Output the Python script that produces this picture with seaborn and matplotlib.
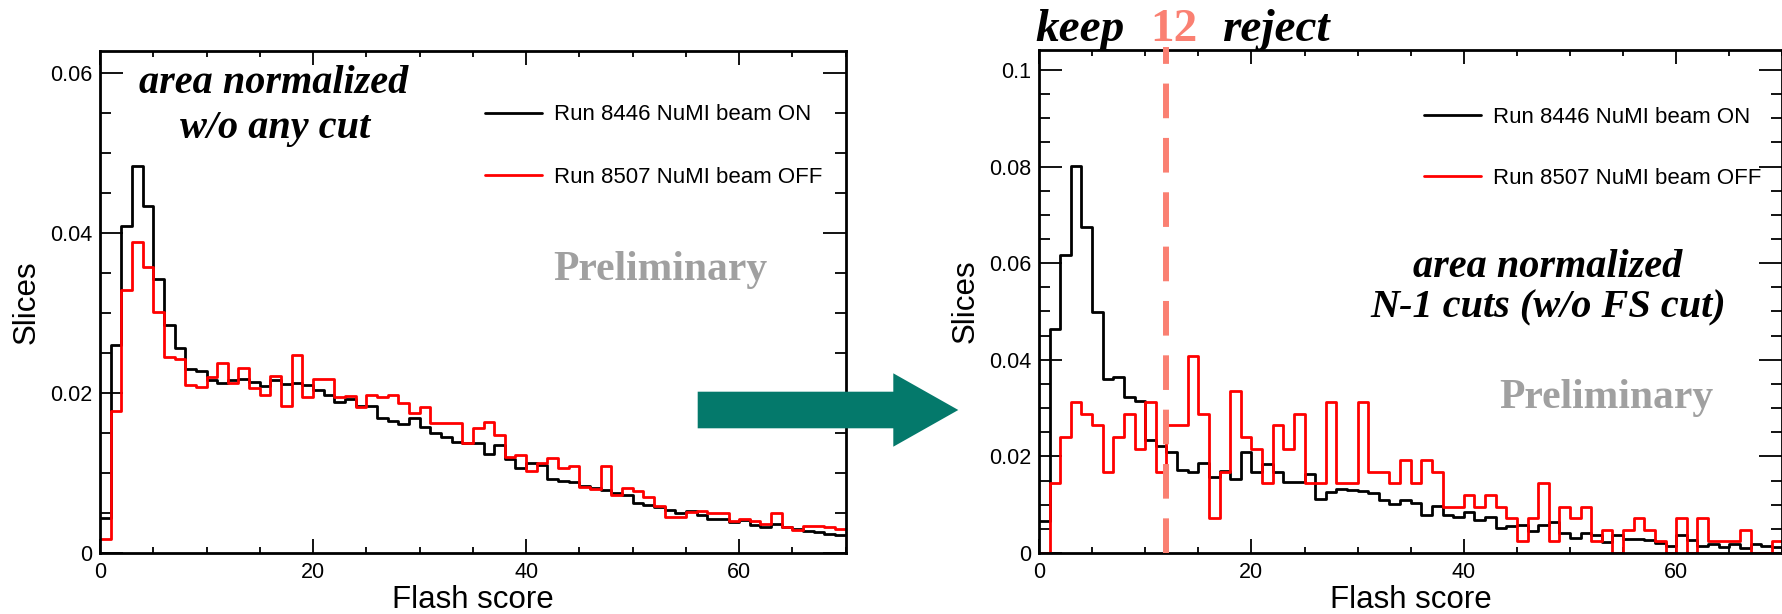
import numpy as np
import pandas as pd
import matplotlib
matplotlib.use("Agg")
import matplotlib.pyplot as plt
import seaborn as sns
from matplotlib.ticker import MultipleLocator, FuncFormatter
from matplotlib.lines import Line2D
from matplotlib.patches import Polygon

# ---------------------------------------------------------------- data
bin_edges = np.arange(0, 71, 1.0)          # Flash score, 70 unit-width bins
bin_centers = 0.5 * (bin_edges[:-1] + bin_edges[1:])

label_on = "Run 8446 NuMI beam ON"
label_off = "Run 8507 NuMI beam OFF"

# area-normalized, no selection
nocut_on = [
    0.0044, 0.0260, 0.0409, 0.0484, 0.0434, 0.0343, 0.0285, 0.0256, 0.0230, 0.0228,
    0.0216, 0.0212, 0.0216, 0.0218, 0.0214, 0.0209, 0.0216, 0.0211, 0.0213, 0.0210,
    0.0204, 0.0197, 0.0189, 0.0193, 0.0184, 0.0184, 0.0169, 0.0165, 0.0161, 0.0169,
    0.0158, 0.0150, 0.0145, 0.0139, 0.0137, 0.0137, 0.0124, 0.0135, 0.0117, 0.0106,
    0.0112, 0.0110, 0.0093, 0.0090, 0.0089, 0.0084, 0.0081, 0.0079, 0.0075, 0.0072,
    0.0062, 0.0060, 0.0057, 0.0054, 0.0050, 0.0052, 0.0048, 0.0043, 0.0042, 0.0039,
    0.0041, 0.0035, 0.0033, 0.0036, 0.0033, 0.0030, 0.0027, 0.0026, 0.0024, 0.0022,
]
nocut_off = [
    0.0018, 0.0177, 0.0329, 0.0389, 0.0357, 0.0301, 0.0245, 0.0242, 0.0210, 0.0208,
    0.0220, 0.0238, 0.0213, 0.0231, 0.0206, 0.0197, 0.0221, 0.0184, 0.0248, 0.0195,
    0.0218, 0.0218, 0.0195, 0.0196, 0.0182, 0.0198, 0.0195, 0.0198, 0.0187, 0.0175,
    0.0182, 0.0163, 0.0163, 0.0163, 0.0138, 0.0156, 0.0164, 0.0147, 0.0120, 0.0122,
    0.0102, 0.0113, 0.0119, 0.0106, 0.0109, 0.0082, 0.0080, 0.0109, 0.0073, 0.0081,
    0.0077, 0.0070, 0.0059, 0.0045, 0.0045, 0.0051, 0.0052, 0.0050, 0.0050, 0.0040,
    0.0043, 0.0040, 0.0036, 0.0050, 0.0032, 0.0029, 0.0034, 0.0034, 0.0032, 0.0030,
]

# area-normalized, all cuts except the flash-score cut
nm1_on = [
    0.0066, 0.0464, 0.0617, 0.0801, 0.0674, 0.0498, 0.0360, 0.0365, 0.0322, 0.0315,
    0.0234, 0.0222, 0.0210, 0.0172, 0.0167, 0.0187, 0.0158, 0.0170, 0.0153, 0.0210,
    0.0167, 0.0184, 0.0167, 0.0146, 0.0146, 0.0164, 0.0112, 0.0127, 0.0132, 0.0130,
    0.0129, 0.0124, 0.0110, 0.0101, 0.0110, 0.0104, 0.0079, 0.0098, 0.0079, 0.0075,
    0.0084, 0.0068, 0.0075, 0.0051, 0.0056, 0.0057, 0.0046, 0.0058, 0.0065, 0.0041,
    0.0032, 0.0041, 0.0037, 0.0023, 0.0037, 0.0030, 0.0028, 0.0026, 0.0020, 0.0014,
    0.0037, 0.0027, 0.0015, 0.0019, 0.0013, 0.0018, 0.0010, 0.0018, 0.0015, 0.0013,
]
nm1_off = [
    0.0000, 0.0144, 0.0240, 0.0312, 0.0288, 0.0264, 0.0168, 0.0240, 0.0288, 0.0216,
    0.0312, 0.0168, 0.0264, 0.0264, 0.0408, 0.0288, 0.0072, 0.0168, 0.0336, 0.0240,
    0.0216, 0.0144, 0.0264, 0.0216, 0.0288, 0.0144, 0.0144, 0.0312, 0.0144, 0.0144,
    0.0312, 0.0168, 0.0168, 0.0144, 0.0192, 0.0144, 0.0192, 0.0168, 0.0096, 0.0096,
    0.0120, 0.0096, 0.0120, 0.0096, 0.0072, 0.0024, 0.0072, 0.0144, 0.0024, 0.0096,
    0.0072, 0.0096, 0.0024, 0.0048, 0.0000, 0.0048, 0.0072, 0.0048, 0.0024, 0.0000,
    0.0072, 0.0000, 0.0072, 0.0024, 0.0024, 0.0024, 0.0048, 0.0000, 0.0000, 0.0024,
]

flash_cut = 12

# ---------------------------------------------------------------- style
sns.set_style("ticks", rc={
    "axes.edgecolor": "black", "text.color": "black", "axes.labelcolor": "black",
    "xtick.color": "black", "ytick.color": "black",
})
plt.rcParams["font.family"] = ["Liberation Sans", "DejaVu Sans"]

W, H = 1782, 614
fig = plt.figure(figsize=(W / 100, H / 100), dpi=100)
fig.patch.set_facecolor("white")


def px_axes(x0, y0, x1, y1):
    """Axes placed by pixel box measured from the top-left corner."""
    return fig.add_axes([x0 / W, 1 - y1 / H, (x1 - x0) / W, (y1 - y0) / H])


def ftext(x, y, s, **kw):
    return fig.text(x / W, 1 - y / H, s, **kw)


def draw_panel(ax, on, off, ymax):
    for vals, col in ((on, "black"), (off, "red")):
        df = pd.DataFrame({"score": bin_centers, "frac": vals})
        sns.histplot(data=df, x="score", weights="frac",
                     binwidth=1.0, binrange=(bin_edges[0], bin_edges[-1]),
                     element="step", fill=False, color=col, linewidth=2.0, ax=ax)
    ax.set_xlim(0, 70)
    ax.set_ylim(0, ymax)
    ax.xaxis.set_major_locator(MultipleLocator(20))
    ax.xaxis.set_minor_locator(MultipleLocator(5))
    ax.yaxis.set_major_locator(MultipleLocator(0.02))
    ax.yaxis.set_minor_locator(MultipleLocator(0.005))
    ax.yaxis.set_major_formatter(FuncFormatter(lambda v, p: f"{v:g}"))
    ax.xaxis.set_major_formatter(FuncFormatter(lambda v, p: f"{v:g}"))
    ax.tick_params(which="both", direction="in", top=True, right=True,
                   width=1.3, labelsize=15.5)
    ax.tick_params(axis="y", which="major", length=16.5, pad=5.5)
    ax.tick_params(axis="y", which="minor", length=8)
    ax.tick_params(axis="x", which="major", length=10, pad=6.5)
    ax.tick_params(axis="x", which="minor", length=4.5)
    for sp in ax.spines.values():
        sp.set_linewidth(2.0)
        sp.set_color("black")
    ax.set_xlabel("Flash score", fontsize=22.5, labelpad=1.5)
    ax.set_ylabel("Slices", fontsize=22.5, labelpad=6)
    ax.set_facecolor("white")


def add_legend(ax, x, y, spacing):
    handles = [Line2D([], [], color="black", lw=2.0), Line2D([], [], color="red", lw=2.0)]
    ax.legend(handles, [label_on, label_off], loc="upper left",
              bbox_to_anchor=(x / W, 1 - y / H), bbox_transform=fig.transFigure,
              frameon=False, fontsize=16, handlelength=2.57, handletextpad=0.54,
              labelspacing=spacing, borderpad=0, borderaxespad=0)


# ---------------------------------------------------------------- left panel
axL = px_axes(100, 50.7, 845.7, 553)
draw_panel(axL, nocut_on, nocut_off, 0.0628)
add_legend(axL, 485, 104.5, 1.87)

serif = ["Liberation Serif", "DejaVu Serif"]
ftext(274, 93, "area normalized", family=serif, weight="bold", style="italic",
      fontsize=29, ha="center", va="baseline")
ftext(275, 138, "w/o any cut", family=serif, weight="bold", style="italic",
      fontsize=29, ha="center", va="baseline")
ftext(660, 280, "Preliminary", family=serif, weight="bold", color="#a0a0a0",
      fontsize=30, ha="center", va="baseline")

# ---------------------------------------------------------------- right panel
axR = px_axes(1039, 50, 1782.4, 553)
draw_panel(axR, nm1_on, nm1_off, 0.10414)
add_legend(axR, 1424, 107, 1.78)

axR.plot([flash_cut, flash_cut], [0, 0.1048], color="#fa8072", lw=4.3,
         dashes=(5.8, 3.3), clip_on=False, zorder=5)

ftext(1548, 277, "area normalized", family=serif, weight="bold", style="italic",
      fontsize=29, ha="center", va="baseline")
ftext(1548, 317, "N-1 cuts (w/o FS cut)", family=serif, weight="bold", style="italic",
      fontsize=29, ha="center", va="baseline")
ftext(1606, 408, "Preliminary", family=serif, weight="bold", color="#a0a0a0",
      fontsize=30, ha="center", va="baseline")

ftext(1035, 41, "keep", family=serif, weight="bold", style="italic",
      fontsize=34, ha="left", va="baseline")
ftext(1150, 41, str(flash_cut), family=serif, weight="bold", color="#fa8072",
      fontsize=34, ha="left", va="baseline")
ftext(1222, 41, "reject", family=serif, weight="bold", style="italic",
      fontsize=34, ha="left", va="baseline")

# ---------------------------------------------------------------- arrow between panels
arrow_px = [(697.7, 391.7), (893.3, 391.7), (893.3, 373.3), (958.3, 410),
            (893.3, 446.7), (893.3, 428.3), (697.7, 428.3)]
arrow = Polygon([(x / W, 1 - y / H) for x, y in arrow_px], closed=True,
                transform=fig.transFigure, facecolor="#04796b", edgecolor="none",
                zorder=10)
fig.add_artist(arrow)

fig.savefig("out.png", dpi=100, facecolor="white")
